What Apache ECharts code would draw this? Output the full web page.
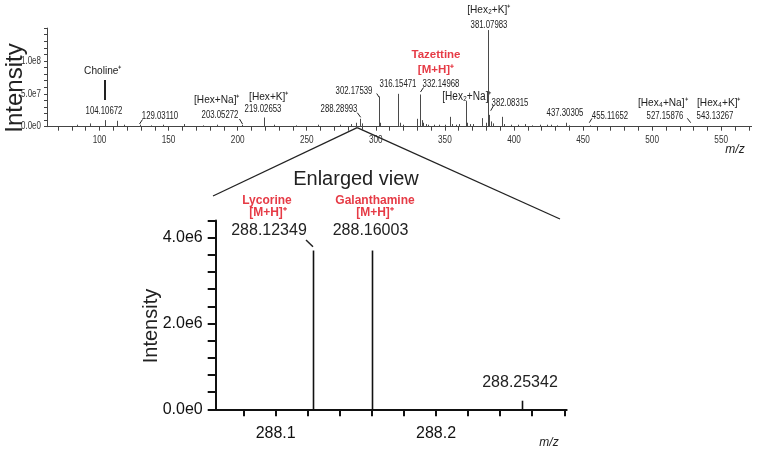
<!DOCTYPE html>
<html>
<head>
<meta charset="utf-8">
<script src="https://cdn.jsdelivr.net/npm/echarts@6/dist/echarts.min.js"></script>
<style>
  html, body { margin: 0; padding: 0; background: #fff; }
  #main { width: 760px; height: 453px; }
</style>
</head>
<body>
<div id="main"></div>
<script>
// full spectrum: m/z and intensity of each peak
var fullMz = [84, 92.8, 104.1, 112.9, 118, 129.0, 137, 146, 160.9, 175, 185, 203.05, 219.03, 226, 242, 258, 274, 282, 286,
  288.29, 290, 302.18, 303.2, 316.15, 317.2, 320, 329.5, 332.15, 333.2, 334.5, 336, 338, 342, 346, 350, 353.9, 355, 358, 360,
  365.1, 366.1, 368, 370.5, 376.5, 379.4, 381.08, 382.08, 383.1, 385, 391.6, 393, 398, 403, 408, 413, 419, 424, 427, 431,
  437.3, 440, 455.1, 470, 527.2, 543.1];
var fullInt = [0.3e7, 0.5e7, 1.0e7, 0.9e7, 0.3e7, 0.3e7, 0.2e7, 0.3e7, 0.4e7, 0.2e7, 0.3e7, 0.3e7, 1.4e7, 0.3e7, 0.2e7, 0.3e7, 0.3e7, 0.4e7, 0.6e7,
  1.2e7, 0.5e7, 4.6e7, 0.6e7, 5.0e7, 0.6e7, 0.3e7, 1.2e7, 4.9e7, 1.0e7, 0.6e7, 0.4e7, 0.3e7, 0.3e7, 0.3e7, 0.3e7, 1.5e7, 0.4e7, 0.3e7, 0.4e7,
  3.9e7, 0.6e7, 0.4e7, 0.4e7, 1.3e7, 0.6e7, 1.47e8, 1.8e7, 0.8e7, 0.5e7, 1.5e7, 0.4e7, 0.3e7, 0.3e7, 0.4e7, 0.2e7, 0.3e7, 0.3e7, 0.3e7, 0.2e7,
  0.6e7, 0.2e7, 0.2e7, 0.1e7, 0.1e7, 0.1e7];

// enlarged view around m/z 288
var zoomMz = [288.12349, 288.16003, 288.25342];
var zoomInt = [3.70e6, 3.70e6, 0.20e6];

// tick values
var fullXTicks = [], fullXLabels = [100, 150, 200, 250, 300, 350, 400, 450, 500, 550];
for (var t = 70; t <= 570; t += 10) fullXTicks.push(t);
var fullYTicks = [], fullYLabels = [0, 5e7, 1e8];
for (var k = 0; k <= 15; k++) fullYTicks.push(k * 1e7);
var zoomXTicks = [288.08, 288.10, 288.12, 288.14, 288.16, 288.18, 288.20, 288.22, 288.24, 288.26, 288.28];
var zoomXLabels = [288.1, 288.2];
var zoomYTicks = [], zoomYLabels = [0, 2e6, 4e6];
for (var j = 0; j <= 11; j++) zoomYTicks.push(j * 4e5);

var RED = '#e63b46';
var SANS = '"Liberation Sans", Arial, sans-serif';

function pairs(xs, ys) {
  return xs.map(function (x, i) { return [x, ys[i]]; });
}

function expFmt(v) {
  return Number(v).toExponential(1).replace('+', '');
}

function stick(color, width) {
  return function (params, api) {
    var p0 = api.coord([api.value(0), 0]);
    var p1 = api.coord([api.value(0), api.value(1)]);
    var x = Math.round(p0[0]) + 0.5;
    return {
      type: 'line',
      shape: { x1: x, y1: p0[1], x2: x, y2: p1[1] },
      style: { stroke: color, lineWidth: width }
    };
  };
}

// text helper, sx squeezes the glyphs to look like the condensed font of the original
function txt(x, y, s, size, opts) {
  opts = opts || {};
  return {
    type: 'text', x: x, y: y, silent: true, rotation: opts.rot || 0,
    scaleX: opts.sx || 1,
    style: {
      text: s, fontSize: size, fontFamily: SANS,
      fontWeight: opts.bold ? 'bold' : 'normal', fontStyle: opts.italic ? 'italic' : 'normal',
      fill: opts.color || '#222', align: opts.align || 'center', verticalAlign: 'middle'
    }
  };
}
function num(x, y, s) { return txt(x, y, s, 10, { sx: 0.78 }); }
function ion(x, y, s) { return txt(x, y, s, 11.5, { sx: 0.88 }); }

function seg(x1, y1, x2, y2, w) {
  return {
    type: 'line', silent: true,
    shape: { x1: x1, y1: y1, x2: x2, y2: y2 },
    style: { stroke: '#222', lineWidth: w || 1 }
  };
}

var chart = echarts.init(document.getElementById('main'));

chart.setOption({
  animation: false,
  grid: [
    { left: 47, right: 8.4, top: 28.1, bottom: 326.3 },
    { left: 215.7, right: 193.3, top: 220.5, bottom: 43.7 }
  ],
  xAxis: [{
    type: 'value', gridIndex: 0, min: 62, max: 572,
    axisLine: { lineStyle: { color: '#444', width: 1 } },
    axisTick: { customValues: fullXTicks, length: 4, lineStyle: { color: '#444' } },
    axisLabel: { show: false },
    splitLine: { show: false }
  }, {
    type: 'value', gridIndex: 1, min: 288.0626, max: 288.2815,
    axisLine: { lineStyle: { color: '#111', width: 2 } },
    axisTick: { customValues: zoomXTicks, length: 7, lineStyle: { color: '#111', width: 2 } },
    axisLabel: { customValues: zoomXLabels, fontSize: 16, color: '#111', margin: 16, fontFamily: SANS,
      formatter: function (v) { return Number(v).toFixed(1); } },
    splitLine: { show: false }
  }],
  yAxis: [{
    type: 'value', gridIndex: 0, min: 0, max: 1.5e8,
    axisLine: { show: true, lineStyle: { color: '#444', width: 1 } },
    axisTick: { show: true, customValues: fullYTicks, length: 3, lineStyle: { color: '#444' } },
    axisLabel: { show: false },
    splitLine: { show: false }
  }, {
    type: 'value', gridIndex: 1, min: 0, max: 4.4e6,
    axisLine: { show: true, lineStyle: { color: '#111', width: 2 } },
    axisTick: { show: true, customValues: zoomYTicks, length: 8, lineStyle: { color: '#111', width: 2 } },
    axisLabel: { customValues: zoomYLabels, fontSize: 16, color: '#111', margin: 13, fontFamily: SANS, formatter: expFmt },
    splitLine: { show: false }
  }],
  series: [{
    type: 'custom', xAxisIndex: 0, yAxisIndex: 0, clip: true,
    renderItem: stick('#4a4a4a', 1),
    data: pairs(fullMz, fullInt)
  }, {
    type: 'custom', xAxisIndex: 1, yAxisIndex: 1,
    renderItem: stick('#111', 1.6),
    data: pairs(zoomMz, zoomInt)
  }]
});

var topGrid = { xAxisIndex: 0, yAxisIndex: 0 };
var graphics = [];

// condensed tick labels of the full spectrum, placed through the axis scales
fullXLabels.forEach(function (v) {
  var p = chart.convertToPixel(topGrid, [v, 0]);
  graphics.push(txt(p[0], p[1] + 13.5, String(v), 10, { sx: 0.82, color: '#333' }));
});
fullYLabels.forEach(function (v) {
  var p = chart.convertToPixel(topGrid, [62, v]);
  graphics.push(txt(p[0] - 6, p[1], expFmt(v), 10, { sx: 0.8, color: '#333', align: 'right' }));
});

// where the zoomed region sits on the full spectrum
var origin = chart.convertToPixel(topGrid, [286.5, 0]);

graphics = graphics.concat([
  // axis titles
  txt(15, 88, 'Intensity', 24, { rot: Math.PI / 2 }),
  txt(151, 326, 'Intensity', 20, { rot: Math.PI / 2 }),
  txt(735, 150, 'm/z', 12, { italic: true }),
  txt(549, 443, 'm/z', 12, { italic: true }),

  // full spectrum annotations
  ion(489, 10, '[Hex₂+K]⁺'),
  num(489, 25, '381.07983'),
  txt(436, 55, 'Tazettine', 11.5, { bold: true, color: RED }),
  txt(436, 70, '[M+H]⁺', 11.5, { bold: true, color: RED }),
  num(398, 84, '316.15471'),
  num(441, 84, '332.14968'),
  num(354, 91, '302.17539'),
  num(339, 109, '288.28993'),
  txt(467, 97, '[Hex₂+Na]⁺', 12, { sx: 0.84 }),
  num(510, 103, '382.08315'),
  ion(103, 71, 'Choline⁺'),
  num(104, 111, '104.10672'),
  num(160, 116, '129.03110'),
  ion(217, 100, '[Hex+Na]⁺'),
  num(220, 115, '203.05272'),
  ion(269, 97, '[Hex+K]⁺'),
  num(263, 109, '219.02653'),
  num(565, 113, '437.30305'),
  num(610, 116, '455.11652'),
  ion(663, 103, '[Hex₄+Na]⁺'),
  num(665, 116, '527.15876'),
  ion(719, 103, '[Hex₄+K]⁺'),
  num(715, 116, '543.13267'),

  // leaders
  seg(105, 80, 105, 100, 2),
  seg(139.5, 124, 142.5, 119.5),
  seg(239.5, 119, 242.5, 124),
  seg(376.7, 93.5, 379.3, 97.5),
  seg(357.3, 112.7, 360.7, 117.3),
  seg(420.5, 92, 423.5, 87.5),
  seg(490.7, 110.7, 493.3, 106),
  seg(589.3, 122.7, 592, 118.3),
  seg(687.3, 118.3, 690.7, 122.7),

  // zoom lines
  seg(origin[0], origin[1] + 1, 213, 196, 1.3),
  seg(origin[0], origin[1] + 1, 560, 219, 1.3),

  // enlarged view annotations
  txt(356, 179, 'Enlarged view', 20),
  txt(267, 201, 'Lycorine', 12, { bold: true, color: RED }),
  txt(268, 213, '[M+H]⁺', 12, { bold: true, color: RED }),
  txt(269, 231, '288.12349', 16),
  seg(306, 240, 313, 246.7, 1.5),
  txt(375, 201, 'Galanthamine', 12, { bold: true, color: RED }),
  txt(375, 213, '[M+H]⁺', 12, { bold: true, color: RED }),
  txt(370.5, 231, '288.16003', 16),
  txt(520, 383, '288.25342', 16)
]);

chart.setOption({ graphic: graphics });
</script>
</body>
</html>
